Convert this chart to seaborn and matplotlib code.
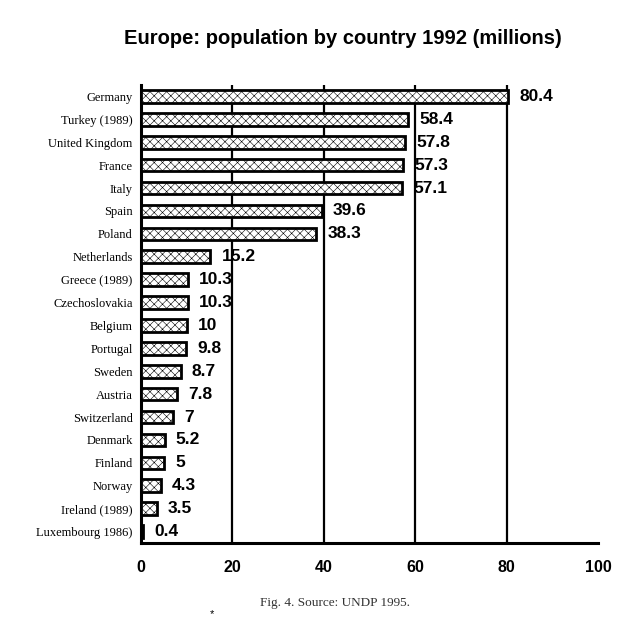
import matplotlib
matplotlib.use("Agg")
import matplotlib.pyplot as plt
import seaborn as sns
import pandas as pd
import numpy as np

countries = ["Germany", "Turkey (1989)", "United Kingdom", "France", "Italy", "Spain",
             "Poland", "Netherlands", "Greece (1989)", "Czechoslovakia", "Belgium",
             "Portugal", "Sweden", "Austria", "Switzerland", "Denmark", "Finland",
             "Norway", "Ireland (1989)", "Luxembourg 1986)"]
population = [80.4, 58.4, 57.8, 57.3, 57.1, 39.6, 38.3, 15.2, 10.3, 10.3, 10, 9.8,
              8.7, 7.8, 7, 5.2, 5, 4.3, 3.5, 0.4]
value_labels = ["80.4", "58.4", "57.8", "57.3", "57.1", "39.6", "38.3", "15.2", "10.3",
                "10.3", "10", "9.8", "8.7", "7.8", "7", "5.2", "5", "4.3", "3.5", "0.4"]
xticks = [0, 20, 40, 60, 80, 100]

df = pd.DataFrame({"country": countries, "population": population})

sns.set_theme(style="white")
plt.rcParams["hatch.linewidth"] = 0.4
plt.rcParams["text.color"] = "black"
plt.rcParams["xtick.color"] = "black"
plt.rcParams["ytick.color"] = "black"
plt.rcParams["xtick.labelcolor"] = "black"
plt.rcParams["ytick.labelcolor"] = "black"

fig = plt.figure(figsize=(6.36, 6.43), dpi=100)
ax = fig.add_axes([141/636, 1-543/643, (598-141)/636, (543-85)/643])

sns.barplot(data=df, y="country", x="population", orient="h", ax=ax,
            color="white", edgecolor="black", linewidth=2.0, width=0.55,
            zorder=3)
for p in ax.patches:
    p.set_hatch("xxxx")
    p.set_facecolor("white")
    p.set_edgecolor("black")

ax.set_xlim(0, 100)
ax.set_ylim(len(countries) - 0.5, -0.5)
ax.set_xticks(xticks)
ax.set_xticklabels([str(t) for t in xticks], fontsize=11.5, fontweight="bold",
                   family="Liberation Sans")
ax.set_yticks(range(len(countries)))
ax.set_yticklabels(countries, fontsize=9, family="Liberation Serif")
ax.set_xlabel("")
ax.set_ylabel("")

for x in xticks[1:-1]:
    ax.axvline(x, color="black", lw=1.6, zorder=1)
ax.axvline(100, color="black", lw=0.6, ls=(0, (3, 6)), zorder=1)

for sp in ["top", "right"]:
    ax.spines[sp].set_visible(False)
for sp in ["left", "bottom"]:
    ax.spines[sp].set_color("black")
    ax.spines[sp].set_linewidth(2.2)

ax.tick_params(axis="y", which="major", length=0, pad=6)
ax.set_yticks(np.arange(-0.5, len(countries) - 0.5, 1), minor=True)
ax.tick_params(axis="y", which="minor", length=5, width=2, direction="in", color="black")
ax.tick_params(axis="x", which="major", length=5, width=1.5, direction="inout",
               color="black", pad=10)

for i, (v, lab) in enumerate(zip(population, value_labels)):
    ax.annotate(lab, xy=(v, i), xytext=(8, 0), textcoords="offset points",
                va="center", ha="left", fontsize=12.5, fontweight="bold",
                family="Liberation Sans", zorder=4)

fig.text(343/636, 1-38/643, "Europe: population by country 1992 (millions)",
         ha="center", va="center", fontsize=14.5, fontweight="bold",
         family="Liberation Sans")
fig.text(335/636, 1-603/643, "Fig. 4. Source: UNDP 1995.", ha="center", va="center",
         fontsize=9.5, family="Liberation Serif", color="#333333")
fig.text(212/636, 1-614/643, "*", ha="center", va="center", fontsize=8,
         family="Liberation Sans")

fig.savefig("out.png", dpi=100)
